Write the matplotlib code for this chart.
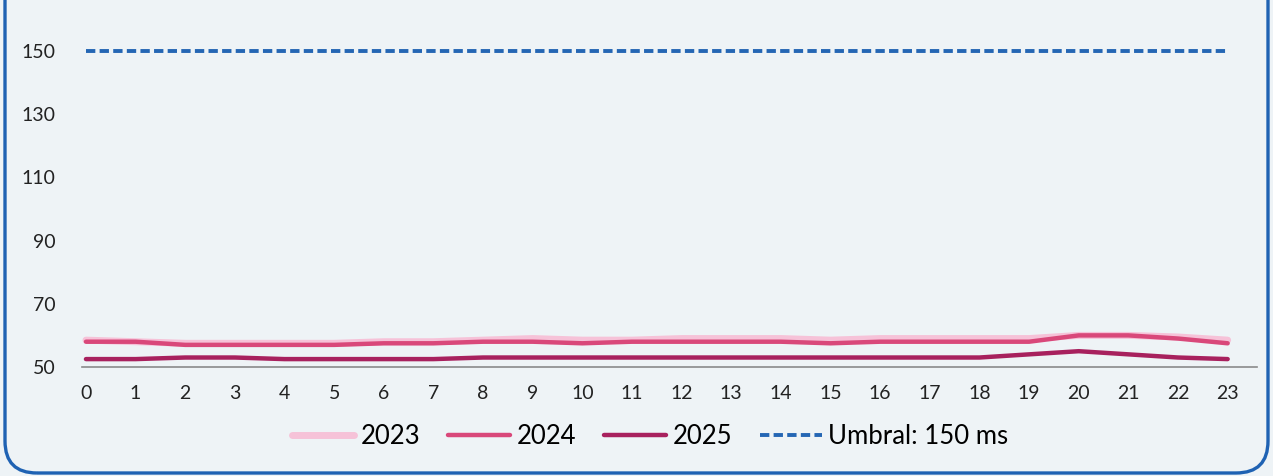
import matplotlib.pyplot as plt
from matplotlib.patches import FancyBboxPatch
from matplotlib.transforms import IdentityTransform

# latencia media por hora del día (ms)
horas = list(range(24))
lat_2023 = [58.5, 58, 57.5, 57.5, 57.5, 57.5, 58, 58, 58.5, 59, 58.5, 58.5,
            59, 59, 59, 58.5, 59, 59, 59, 59, 60, 60, 59.5, 58.5]
lat_2024 = [58, 58, 57, 57, 57, 57, 57.5, 57.5, 58, 58, 57.5, 58,
            58, 58, 58, 57.5, 58, 58, 58, 58, 60, 60, 59, 57.5]
lat_2025 = [52.5, 52.5, 53, 53, 52.5, 52.5, 52.5, 52.5, 53, 53, 53, 53,
            53, 53, 53, 53, 53, 53, 53, 54, 55, 54, 53, 52.5]
umbral = 150
yticks = [50, 70, 90, 110, 130, 150]

bg = '#eef3f6'
plt.rcParams['font.family'] = ['Lato', 'DejaVu Sans']

fig = plt.figure(figsize=(12.73, 4.76), dpi=100, facecolor=bg)
ax = fig.add_axes([0.0644, 0.229, 0.923, 0.664])
ax.set_facecolor(bg)

l23, = ax.plot(horas, lat_2023, color='#f6c2d8', lw=5, solid_capstyle='round', label='2023')
l24, = ax.plot(horas, lat_2024, color='#d9487a', lw=3.2, solid_capstyle='round', label='2024')
l25, = ax.plot(horas, lat_2025, color='#a8215e', lw=3.2, solid_capstyle='round', label='2025')
lu, = ax.plot([horas[0], horas[-1]], [umbral, umbral], color='#2466b4', lw=2.8,
              dashes=(2.4, 1.1), clip_on=False, label='Umbral: 150 ms')

ax.set_xlim(-0.08, 23.59)
ax.set_ylim(50, 150)
ax.set_xticks(horas)
ax.set_yticks(yticks)
ax.tick_params(axis='both', length=0, labelsize=14, colors='#222222')
ax.tick_params(axis='y', pad=19)
ax.tick_params(axis='x', pad=13)
for s in ['top', 'right', 'left']:
    ax.spines[s].set_visible(False)
ax.spines['bottom'].set_color('#8a8a8a')
ax.spines['bottom'].set_linewidth(1.2)

fig.legend(handles=[l23, l24, l25, lu], loc='center', bbox_to_anchor=(0.511, 0.082),
           ncol=4, frameon=False, fontsize=18.5, handlelength=2.4, handletextpad=0.25,
           columnspacing=1.1)

# marco azul redondeado de la tarjeta
card = FancyBboxPatch((5, 3), 1263, 600, boxstyle='round,pad=0,rounding_size=32',
                      transform=IdentityTransform(), fill=False, edgecolor='#1f62b3',
                      lw=2.4, clip_on=False)
fig.patches.append(card)

fig.savefig('out.png', dpi=100, facecolor=bg)
